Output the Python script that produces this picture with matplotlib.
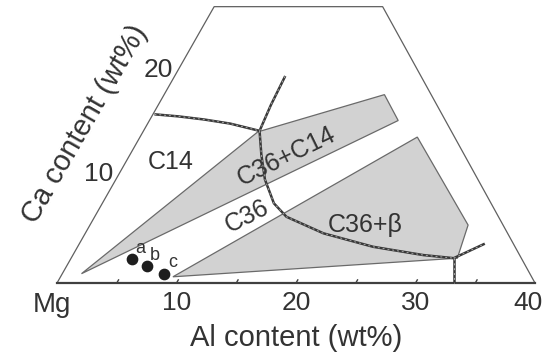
import numpy as np
import matplotlib.pyplot as plt

plt.rcParams['font.family'] = ['Liberation Sans', 'DejaVu Sans']

# compositions as (Al, Ca) in wt%, Mg is the balance
frame_al = [0, 40, 13.9, -0.2]
frame_ca = [0, 0, 26.7, 26.7]

c36c14_al = [1.6, 9.5, 18.3, 20.7]
c36c14_ca = [0.9, 14.6, 18.2, 15.7]

c36b_al = [9.4, 23.1, 31.6, 32.3]
c36b_ca = [0.6, 14.1, 5.6, 2.4]

# phase boundaries
bnd_c14_al = [0, 2.1, 4.4, 6.8, 9.6]
bnd_c14_ca = [16.3, 16.1, 15.8, 15.4, 14.7]
bnd_up_al = [9.6, 9.3, 9.1]
bnd_up_ca = [14.7, 17.2, 20.0]
bnd_c36_al = [9.6, 10.9, 12.4, 14.3, 16.0, 19.9, 24.7, 29.3, 32.0]
bnd_c36_ca = [14.7, 12.4, 10.0, 7.7, 6.4, 4.8, 3.5, 2.7, 2.4]
bnd_r_al = [32.0, 33.9]
bnd_r_ca = [2.4, 3.8]
bnd_v_al = [32.0, 33.2]
bnd_v_ca = [2.4, 0.0]

# alloys a, b, c
alloy_names = ['a', 'b', 'c']
alloy_al = [5.1, 6.7, 8.5]
alloy_ca = [2.3, 1.6, 0.9]

al_ticks = [10, 20, 30, 40]
ca_ticks = [10, 20]

S3 = np.sqrt(3) / 2


def tern(al, ca):
    al = np.asarray(al, float)
    ca = np.asarray(ca, float)
    return al + ca / 2, ca * S3


fig = plt.figure(figsize=(5.46, 3.54), dpi=100)
ax = fig.add_axes([0, 0, 1, 1])
ax.set_xlim(-4.77, 40.92)
ax.set_ylim(-5.94, 23.68)
ax.axis('off')

# shaded two-phase fields
for a, c in [(c36c14_al, c36c14_ca), (c36b_al, c36b_ca)]:
    x, y = tern(a, c)
    ax.fill(x, y, facecolor='#d2d2d2', edgecolor='#6a6a6a', lw=0.9, zorder=1)

# frame
x, y = tern(frame_al, frame_ca)
ax.plot(np.r_[x[1:], x[0]], np.r_[y[1:], y[0]], color='#606060', lw=0.9, zorder=2)
ax.plot(x[:2], y[:2], color='#404040', lw=1.6, zorder=3)
for t in range(5, 40, 5):
    tx, ty = tern([t, t], [0, 0.3])
    ax.plot(tx, ty, color='#404040', lw=1, zorder=3)

# boundaries
for a, c in [(bnd_c14_al, bnd_c14_ca), (bnd_up_al, bnd_up_ca), (bnd_c36_al, bnd_c36_ca),
             (bnd_r_al, bnd_r_ca), (bnd_v_al, bnd_v_ca)]:
    x, y = tern(a, c)
    ax.plot(x, y, color='#383838', lw=1.8, solid_capstyle='butt', zorder=4)
    ax.plot(x, y, color='#a8a8a8', lw=0.7, linestyle=(0, (2, 3)), zorder=5)

x, y = tern(alloy_al, alloy_ca)
ax.scatter(x, y, s=55, color='#1e1e1e', zorder=6)
for n, xx, yy in zip(alloy_names, x, y):
    ax.text(xx + 0.7, yy + 0.9, n, fontsize=13, color='#333333', ha='center', va='center')

# field labels
lab = [('C14', 3.7, 11.7, 0), ('C36+C14', 13.1, 12.2, 26), ('C36', 12.7, 6.4, 27),
       ('C36+\u03b2', 23.0, 5.6, 0)]
for s, a, c, r in lab:
    xx, yy = tern(a, c)
    ax.text(xx, yy, s, fontsize=18, color='#333333', ha='center', va='center',
            rotation=r, rotation_mode='anchor')

# tick labels
for t in al_ticks:
    xx, yy = tern(t, 0)
    ax.text(xx - (0.6 if t == 40 else 0), -1.7, str(t), fontsize=19, color='#333333',
            ha='center', va='center')
ax.text(-0.45, -1.85, 'Mg', fontsize=20, color='#333333', ha='center', va='center')
for t in ca_ticks:
    xx, yy = tern(0, t)
    ax.text(xx - 1.55, yy + 0.5, str(t), fontsize=19, color='#333333', ha='center', va='center')

ax.text(20.0, -4.6, 'Al content (wt%)', fontsize=21, color='#333333', ha='center', va='center')
ax.text(2.3, 13.3, 'Ca content (wt%)', fontsize=21, color='#333333', ha='center', va='center',
        rotation=60, rotation_mode='anchor')

fig.savefig('out.png', dpi=100)
